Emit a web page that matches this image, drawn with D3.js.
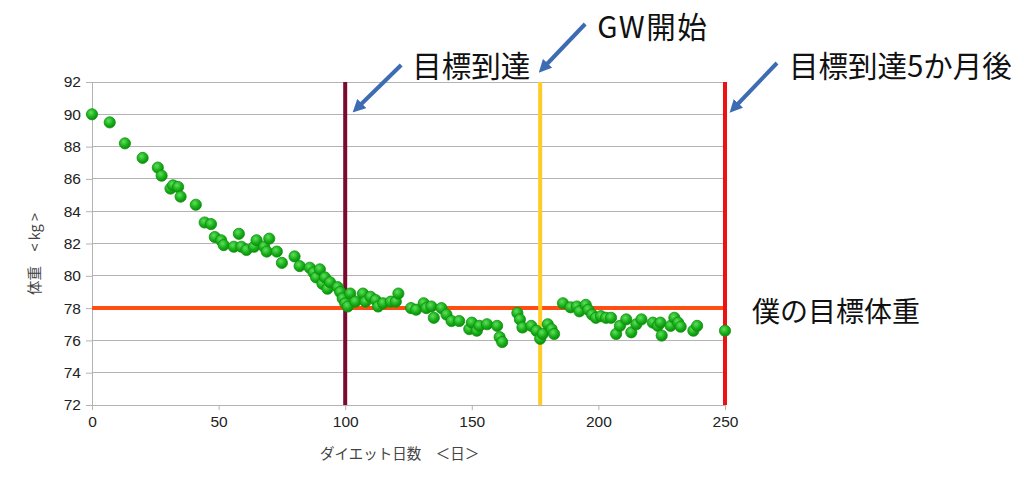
<!DOCTYPE html>
<html><head><meta charset="utf-8">
<script src="https://cdn.jsdelivr.net/npm/d3@7"></script>
<style>
html,body{margin:0;padding:0;background:#fff;}
svg{display:block;}
</style></head>
<body>
<svg id="chart" width="1024" height="488"></svg>
<script>
// ---- data ----
const days = [0,7,13,20,26,27.5,31,32,34,35,41,44.5,47,48.5,51,52,56,58,59,61,64,65,68,69,70,73,75,80,82,86,87.5,88.5,90,91,92,93,94,97,98,99,100,101,102,104,107,108,110,112,113,115,118,120,121,126,128,131,132,134,135,138,140,142,145,149,150,152,153,156,160,161,162,
168,169,170,173.5,175.5,177,178,180,181.5,182.5,186,189,191.5,192.5,195,196,197.5,199,201,203,205,207,208.5,211,213,215,217,221.5,223.5,224.5,225,228.5,230,231.5,232.5,237.5,239,250];
const weights = [90.0,89.5,88.2,87.3,86.7,86.2,85.4,85.6,85.5,84.9,84.4,83.3,83.2,82.4,82.2,81.9,81.8,82.6,81.8,81.6,81.8,82.2,81.8,81.5,82.3,81.5,80.8,81.2,80.6,80.5,80.2,79.9,80.4,79.5,79.9,79.2,79.6,79.3,79.0,78.6,78.3,78.1,78.9,78.4,78.9,78.4,78.7,78.5,78.1,78.3,78.4,78.4,78.9,78.0,77.9,78.3,78.0,78.1,77.4,78.0,77.6,77.2,77.2,76.7,77.1,76.6,76.9,77.0,76.9,76.2,75.9,
77.7,77.3,76.8,76.9,76.6,76.1,76.4,77.0,76.7,76.4,78.3,78.05,78.1,77.8,78.2,77.9,77.6,77.4,77.5,77.4,77.4,76.4,76.9,77.3,76.5,77.0,77.3,77.1,76.9,77.1,76.3,76.9,77.4,77.1,76.85,76.6,76.9,76.6];
const yTicks = [72,74,76,78,80,82,84,86,88,90,92];
const xTicks = [0,50,100,150,200,250];
const targetWeight = 78;
const markerDays = [100, 177, 250];
const markerColors = ["#7a0a2e", "#ffcc26", "#ee1111"];
const markerLabels = ["目標到達", "GW開始", "目標到達5か月後"];
const targetLabel = "僕の目標体重";
const xTitle = "ダイエット日数　＜日＞";
const yTitle = "体重　< kg >";

// ---- chart ----
const svg = d3.select("#chart");
const x = d3.scaleLinear().domain([0,250]).range([92,725]);
const y = d3.scaleLinear().domain([72,92]).range([405,82]);

const defs = svg.append("defs");
const grad = defs.append("radialGradient").attr("id","ball").attr("cx","40%").attr("cy","35%").attr("r","65%");
grad.append("stop").attr("offset","0%").attr("stop-color","#5fe05f");
grad.append("stop").attr("offset","60%").attr("stop-color","#19b019");
grad.append("stop").attr("offset","100%").attr("stop-color","#0c8c0c");
defs.append("marker").attr("id","arrow").attr("viewBox","0 0 10 10").attr("refX",5).attr("refY",5)
  .attr("markerWidth",3.2).attr("markerHeight",3.2).attr("orient","auto")
  .append("path").attr("d","M0,0 L10,5 L0,10 z").attr("fill","#3d6cb3");

// gridlines
svg.append("g").selectAll("line").data(yTicks).join("line")
  .attr("x1",x(0)).attr("x2",x(250)).attr("y1",d=>y(d)).attr("y2",d=>y(d))
  .attr("stroke","#b3b3b3").attr("stroke-width",1).attr("shape-rendering","crispEdges");

// y axis
const yAxis = svg.append("g").attr("transform",`translate(${x(0)},0)`)
  .call(d3.axisLeft(y).tickValues(yTicks).tickSize(6).tickPadding(5));
yAxis.select(".domain").attr("stroke","#b3b3b3");
yAxis.selectAll(".tick line").attr("stroke","#b3b3b3");
yAxis.selectAll("text").attr("font-family","Liberation Sans, Arial, sans-serif").attr("font-size",15.5).attr("fill","#222");

// x axis
const xAxis = svg.append("g").attr("transform",`translate(0,${y(72)})`)
  .call(d3.axisBottom(x).tickValues(xTicks).tickSize(5).tickPadding(6));
xAxis.select(".domain").attr("stroke","#b3b3b3");
xAxis.selectAll(".tick line").attr("stroke","#b3b3b3");
xAxis.selectAll("text").attr("font-family","Liberation Sans, Arial, sans-serif").attr("font-size",15.5).attr("fill","#222");

// target line
svg.append("line").attr("x1",x(0)).attr("x2",x(250)).attr("y1",y(targetWeight)).attr("y2",y(targetWeight))
  .attr("stroke","#ff4d14").attr("stroke-width",4);

// vertical markers
svg.append("g").selectAll("line").data(markerDays).join("line")
  .attr("x1",d=>x(d)).attr("x2",d=>x(d)).attr("y1",y(92)).attr("y2",y(72))
  .attr("stroke",(d,i)=>markerColors[i]).attr("stroke-width",4);

// points
svg.append("g").selectAll("circle").data(days.map((d,i)=>[d,weights[i]])).join("circle")
  .attr("cx",d=>x(d[0])).attr("cy",d=>y(d[1])).attr("r",5.6)
  .attr("fill","url(#ball)").attr("stroke","#0e930e").attr("stroke-width",0.8);

// axis titles
svg.append("text").attr("x",x(0)+228).attr("y",459).attr("font-family","Noto Sans CJK JP, sans-serif")
  .attr("font-size",14.5).attr("fill","#444").text(xTitle);
svg.append("text").attr("transform","translate(40,254) rotate(-90)").attr("text-anchor","middle")
  .attr("font-family","Noto Sans CJK JP, sans-serif").attr("font-size",14.5).attr("fill","#444").text(yTitle);

// annotations
const annos = [
  {tx: x(100)+67, ty: 77, ax1: x(100)+56, ay1: 65, ax2: x(100)+12, ay2: 108, fs: 29.5, ls: 0},
  {tx: x(177)+57, ty: 38, ax1: x(177)+45, ay1: 24, ax2: x(177)+3, ay2: 68, fs: 29.5, ls: 1.5},
  {tx: x(250)+64, ty: 77, ax1: x(250)+52, ay1: 63, ax2: x(250)+9, ay2: 108, fs: 29.5, ls: 0}
];
annos.forEach((a,i)=>{
  svg.append("line").attr("x1",a.ax1).attr("y1",a.ay1).attr("x2",a.ax2).attr("y2",a.ay2)
    .attr("stroke","#3d6cb3").attr("stroke-width",4).attr("marker-end","url(#arrow)");
  svg.append("text").attr("x",a.tx).attr("y",a.ty).attr("font-family","Noto Sans CJK JP, sans-serif")
    .attr("font-size",a.fs).attr("letter-spacing",a.ls).attr("fill","#111").text(markerLabels[i]);
});
svg.append("text").attr("x",x(250)+27).attr("y",y(targetWeight)+6).attr("dominant-baseline","middle")
  .attr("font-family","Noto Sans CJK JP, sans-serif").attr("font-size",28).attr("fill","#111").text(targetLabel);
</script>
</body></html>
